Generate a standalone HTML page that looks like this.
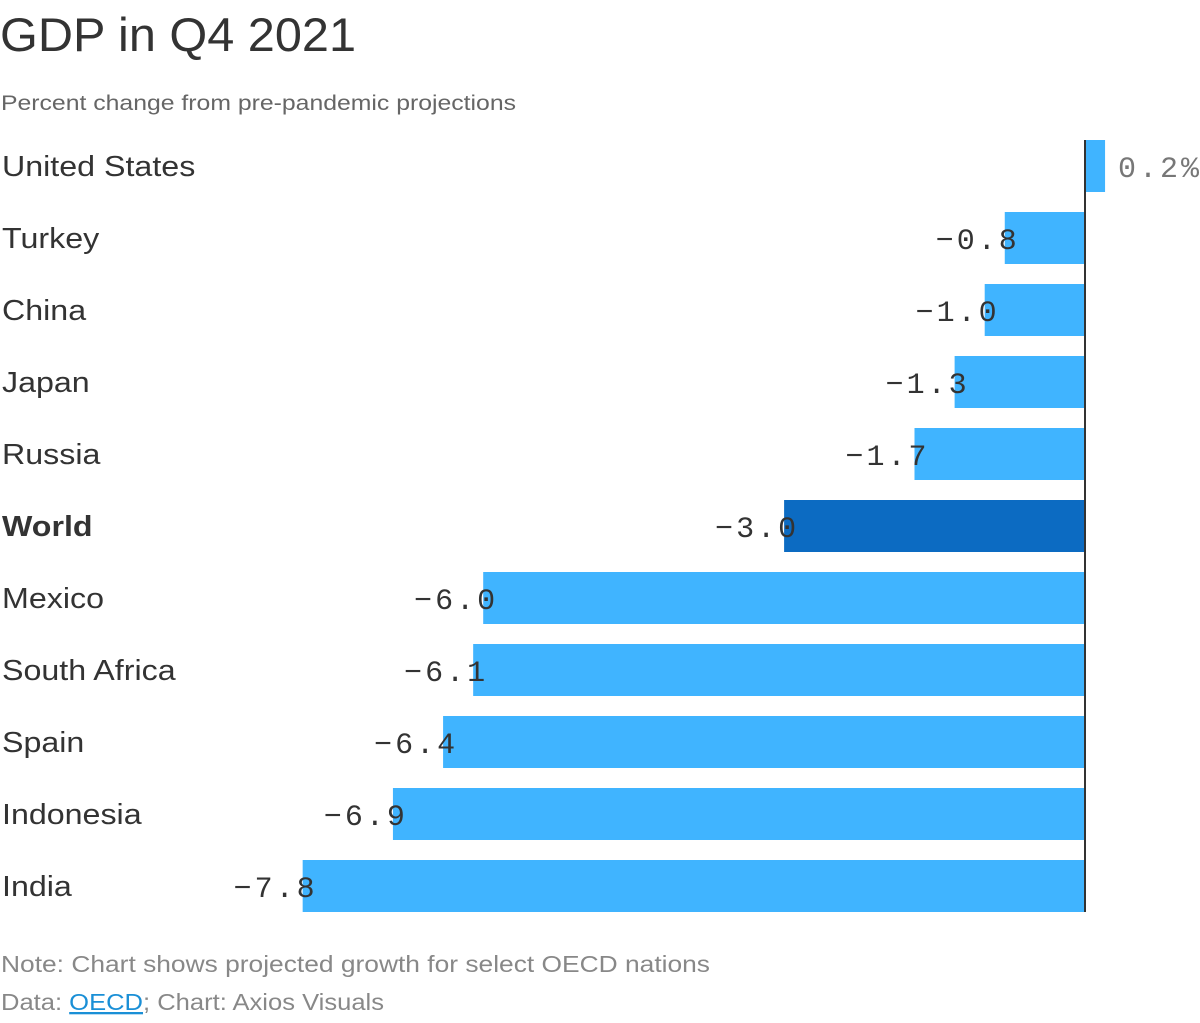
<!DOCTYPE html>
<html><head><meta charset="utf-8"><style>
body{margin:0;background:#fff;}
svg text{font-family:"Liberation Sans",sans-serif;}
</style></head><body>
<svg id="chart" width="1200" height="1018" viewBox="0 0 1200 1018" xmlns="http://www.w3.org/2000/svg">
<text x="0" y="51" font-size="47" fill="#333" textLength="356" lengthAdjust="spacingAndGlyphs">GDP in Q4 2021</text>
<text x="1" y="110" font-size="21" fill="#666" textLength="515" lengthAdjust="spacingAndGlyphs">Percent change from pre-pandemic projections</text>
<g id="bars"></g>
<text x="1" y="972" font-size="23" fill="#888" textLength="709" lengthAdjust="spacingAndGlyphs">Note: Chart shows projected growth for select OECD nations</text>
<text x="1" y="1010" font-size="23" fill="#888" textLength="383" lengthAdjust="spacingAndGlyphs">Data: <tspan text-decoration="underline" fill="#1a8fd6">OECD</tspan>; Chart: Axios Visuals</text>
</svg>
<script>
const categories=["United States","Turkey","China","Japan","Russia","World","Mexico","South Africa","Spain","Indonesia","India"];
const values=[0.2,-0.8,-1.0,-1.3,-1.7,-3.0,-6.0,-6.1,-6.4,-6.9,-7.8];
const labels=["0.2%","−0.8","−1.0","−1.3","−1.7","−3.0","−6.0","−6.1","−6.4","−6.9","−7.8"];
const NS="http://www.w3.org/2000/svg";
const x0=1085, scale=100.3, top0=140, step=72, bh=52;
const xs=v=>x0+v*scale;
const ys=i=>top0+i*step;
const g=document.getElementById('bars');
function mk(t,a){const e=document.createElementNS(NS,t);for(const k in a)e.setAttribute(k,a[k]);g.appendChild(e);return e;}
categories.forEach((c,i)=>{
  const v=values[i], y=ys(i);
  const r=mk('rect',{x:Math.min(xs(v),x0),y:y,width:Math.abs(xs(v)-x0),height:bh,fill:c==="World"?"#0c6bc2":"#40b4ff"});
  
  
  const t=mk('text',{x:2,y:y+bh/2+10,'font-size':29,fill:'#333','font-weight':c==="World"?'bold':'normal'});
  t.textContent=c;
  
  
  const w=t.getComputedTextLength();
  if(w>0){t.setAttribute('textLength',(w*1.11).toFixed(1));t.setAttribute('lengthAdjust','spacingAndGlyphs');}
  const l=mk('text',{y:y+bh/2+11,'font-size':30,'letter-spacing':3,style:'font-family:"Liberation Mono",monospace'});
  if(v>=0){l.setAttribute('x',xs(v)+13);l.setAttribute('fill','#777');}
  else{l.setAttribute('x',xs(v)+15);l.setAttribute('text-anchor','end');l.setAttribute('fill','#333');}
  l.textContent=labels[i];
  
  
});
const ax=mk('line',{x1:x0,x2:x0,y1:top0,y2:ys(categories.length-1)+bh,stroke:'#333','stroke-width':2});


</script>
</body></html>
